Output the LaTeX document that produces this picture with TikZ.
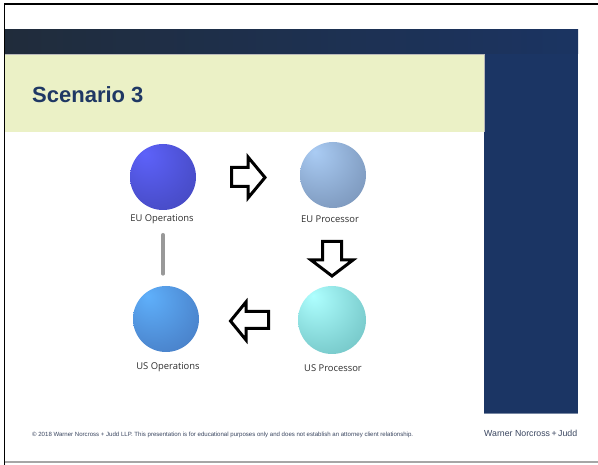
\documentclass[tikz,border=0pt]{standalone}
\usepackage{fontspec}
\setmainfont{Liberation Sans}
\newfontfamily\labelfont{Open Sans}
\definecolor{bandL}{HTML}{202C3B}
\definecolor{bandR}{HTML}{1B3462}
\definecolor{navy}{HTML}{1B3564}
\definecolor{greenbox}{HTML}{EBF1C6}
\definecolor{titleblue}{HTML}{1F3864}
\definecolor{labelgray}{HTML}{2E2E2E}
\definecolor{footgray}{HTML}{3A4660}
\colorlet{sphL}{white}
\colorlet{sphD}{black}
\pgfdeclareradialshading[sphL,sphD]{sphere}{\pgfpoint{-14bp}{18bp}}{%
  color(0bp)=(sphL); color(30bp)=(sphL!55!sphD); color(72bp)=(sphD)}
\tikzset{
  spherenode/.style 2 args={circle, minimum size=66pt, inner sep=0pt,
    /utils/exec={\definecolor{sphL}{HTML}{#1}\definecolor{sphD}{HTML}{#2}},
    shade, shading=sphere},
  lbl/.style={font=\labelfont\fontsize{9.4}{11}\selectfont, text=labelgray, inner sep=1pt},
  blockarrow/.style={draw=black, fill=white, line width=3pt, line join=miter, miter limit=10}
}
\begin{document}
\begin{tikzpicture}[x=1pt,y=-1pt]
\useasboundingbox (0,0) rectangle (598,465);
\fill[white] (0,0) rectangle (598,465);
% frame
\draw[black, line width=1.4pt] (4.5,465) -- (4.5,4) -- (598,4);
\draw[gray!70, line width=1.2pt] (4.5,462) -- (598,462);
% header band and column
\shade[left color=bandL, right color=bandR] (5,30) rectangle (578,54);
\fill[navy] (484,54) rectangle (578,413);
\draw[navy!60!white, line width=0.6pt] (484,413) -- (578,413);
\fill[greenbox] (5.2,54) rectangle (484,132.5);
\draw[gray!55, line width=0.5pt] (5.2,54) -- (484,54) -- (484,132.5);
\node[anchor=base west, inner sep=0pt, font=\bfseries\fontsize{22}{26}\selectfont, text=titleblue] (title) at (32,103) {Scenario 3};
% spheres
\node[spherenode={5D62FA}{35389A}] (euop) at (163,177) {};
\node[spherenode={AACCF4}{5A7092}] (eupr) at (333,175) {};
\node[spherenode={5FB0FB}{385CA2}] (usop) at (166,319) {};
\node[spherenode={AEFFFF}{4A9C9E}, minimum size=68pt] (uspr) at (332,320) {};
% labels
\node[lbl] (euol) at (162,219) {EU Operations};
\node[lbl] (eupl) at (330,219) {EU Processor};
\node[lbl] (usol) at (168,367) {US Operations};
\node[lbl] (uspl) at (333,368) {US Processor};
% grey link
\draw[line width=3.6pt, black!40, line cap=round, shorten <=10pt, shorten >=12pt] (euop.south |- euol.south) -- (euop.south |- usop.north);
% block arrows
\draw[blockarrow] (231.5,167.5) -- (248,167.5) -- (248,157) -- (265,177.5) -- (248,198) -- (248,186.5) -- (231.5,186.5) -- cycle;
\draw[blockarrow] (322.5,241.5) -- (341.5,241.5) -- (341.5,260) -- (353,260) -- (332,276) -- (311,260) -- (322.5,260) -- cycle;
\draw[blockarrow] (268.5,311.5) -- (246,311.5) -- (246,302) -- (230.5,321) -- (246,340) -- (246,328.5) -- (268.5,328.5) -- cycle;
% footer
\node[anchor=west, inner sep=0pt, text=footgray] (foot) at (32,435) {\resizebox{381pt}{!}{\fontsize{5.5}{6}\selectfont \textcopyright{} 2018 Warner Norcross + Judd LLP. This presentation is for educational purposes only and does not establish an attorney client relationship.}};
\node[anchor=west, inner sep=0pt, text=footgray] (brand) at (484,433) {\resizebox{93pt}{!}{\fontsize{8}{9}\selectfont Warner Norcross\,+\,Judd}};
\end{tikzpicture}
\end{document}
